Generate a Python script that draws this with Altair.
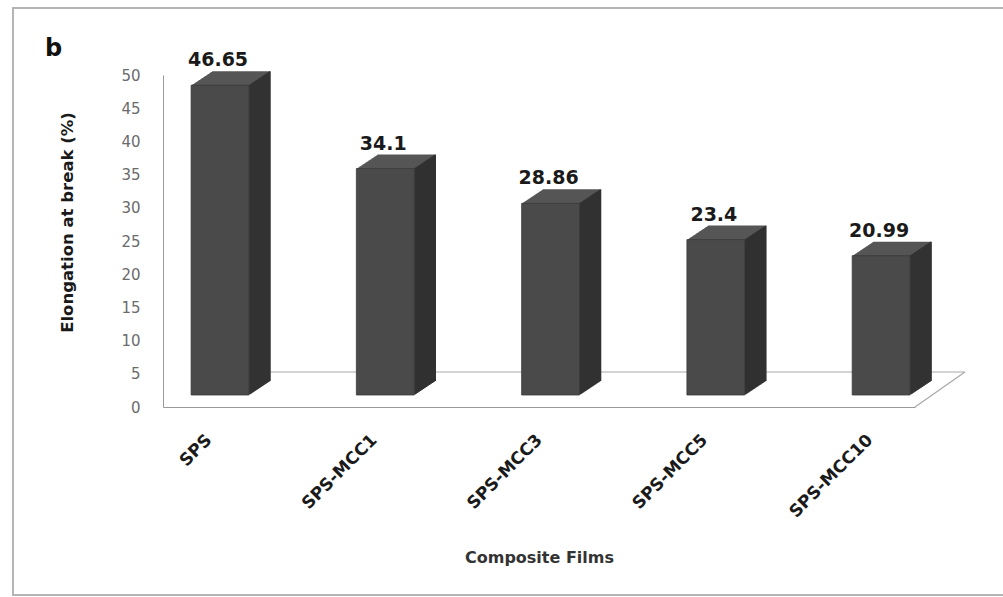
import altair as alt
import pandas as pd

# Elongation at break of the composite films
films = ["SPS", "SPS-MCC1", "SPS-MCC3", "SPS-MCC5", "SPS-MCC10"]
elongation = [46.65, 34.1, 28.86, 23.4, 20.99]
y_ticks = [0, 5, 10, 15, 20, 25, 30, 35, 40, 45, 50]

df = pd.DataFrame({"film": films, "elong": elongation})
one = pd.DataFrame({"z": [0]})

W, H = 752, 332
FONT = "DejaVu Sans"

# pseudo-3D geometry (pixels)
LIFT = 12          # front face sits above the floor front edge
DX, DY = 21, 14    # bar depth
STEPS = 21

FRONT = "#4a4a4a"
TOP = "#565656"
SIDE = "#313131"

xscale = alt.Scale(domain=films, paddingInner=0.65, paddingOuter=0.1, align=0.85)
yscale = alt.Scale(domain=[0, 50], nice=False, zero=True)

x_axis = alt.Axis(
    title="Composite Films", labelAngle=-45, labelAlign="right", labelBaseline="middle",
    labelFont=FONT, labelFontSize=17, labelFontWeight="bold", labelColor="#1a1a1a",
    labelPadding=30, labelOffset=-11, ticks=False, domainColor="#9a9a9a", grid=False,
    titleFont=FONT, titleFontSize=16, titleFontWeight="bold", titleColor="#333333",
    titleY=150, titleBaseline="middle",
)
y_axis = alt.Axis(
    title="Elongation at break (%)", values=y_ticks, grid=False, ticks=False,
    domainColor="#9a9a9a", labelColor="#6b6b6b", labelFont=FONT, labelFontSize=15,
    labelPadding=23, titleFont=FONT, titleFontSize=16.5, titleFontWeight="bold",
    titleColor="#1a1a1a", titleX=-96, titleY=147, titleBaseline="middle",
)

base = alt.Chart(df)
X = lambda **kw: alt.X("film:N", sort=films, scale=xscale, axis=x_axis, **kw)
Y = alt.Y("elong:Q", scale=yscale, axis=y_axis)
Y0 = alt.YDatum(0, type="quantitative", scale=yscale, axis=y_axis)

layers = []

# outer frame of the figure
layers.append(
    alt.Chart(one).mark_rect(fill=None, fillOpacity=0, stroke="#b5b5b5", strokeWidth=2).encode(
        x=alt.value(-150), x2=alt.value(W + 100), y=alt.value(-67), y2=alt.value(H + 188)
    )
)

# floor: back edge and right-hand diagonal
layers.append(
    alt.Chart(one).mark_rule(color="#a8a8a8", strokeWidth=1.2, yOffset=-35, y2Offset=-35).encode(
        x=alt.value(50), x2=alt.value(W + 50), y=Y0, y2=alt.datum(0)
    )
)
layers.append(
    alt.Chart(one).mark_rule(color="#a8a8a8", strokeWidth=1.2, y2Offset=-35).encode(
        x=alt.value(W), x2=alt.value(W + 50), y=Y0, y2=alt.datum(0)
    )
)

# extrusion (top face colour)
for k in range(STEPS, 0, -1):
    off_x = k * DX / STEPS
    off_y = -LIFT - k * DY / STEPS
    layers.append(
        base.mark_bar(color=TOP, xOffset=off_x, yOffset=off_y, y2Offset=off_y).encode(x=X(), y=Y)
    )

# side face drawn as a run of vertical strokes at the right edge
for k in range(1, STEPS + 1):
    off_x = k * DX / STEPS
    off_y = -LIFT - k * DY / STEPS
    layers.append(
        base.mark_rule(color=SIDE, strokeWidth=1.6, xOffset=off_x, yOffset=off_y, y2Offset=off_y).encode(
            x=X(bandPosition=1), y=Y, y2=alt.datum(0)
        )
    )

# front face
layers.append(
    base.mark_bar(color=FRONT, stroke="#3a3a3a", strokeWidth=0.8, yOffset=-LIFT, y2Offset=-LIFT).encode(
        x=X(), y=Y
    )
)

# value labels
layers.append(
    base.mark_text(font=FONT, fontSize=19, fontWeight="bold", color="#1a1a1a", baseline="bottom",
                   dx=-2, yOffset=-LIFT - DY - 1).encode(
        x=X(), y=Y, text=alt.Text("elong:Q")
    )
)

# panel letter
layers.append(
    alt.Chart(one).mark_text(text="b", font=FONT, fontSize=24, fontWeight="bold", color="#111111",
                             align="left", baseline="middle").encode(
        x=alt.value(-118), y=alt.value(-26)
    )
)

chart = alt.layer(*layers).properties(
    width=W, height=H,
    padding={"left": 163, "top": 75, "right": 88, "bottom": 190},
    autosize=alt.AutoSizeParams(type="none"),
    background="white",
).configure_view(stroke=None)

chart.save("out.html", embed_options={"renderer": "svg", "actions": False})
